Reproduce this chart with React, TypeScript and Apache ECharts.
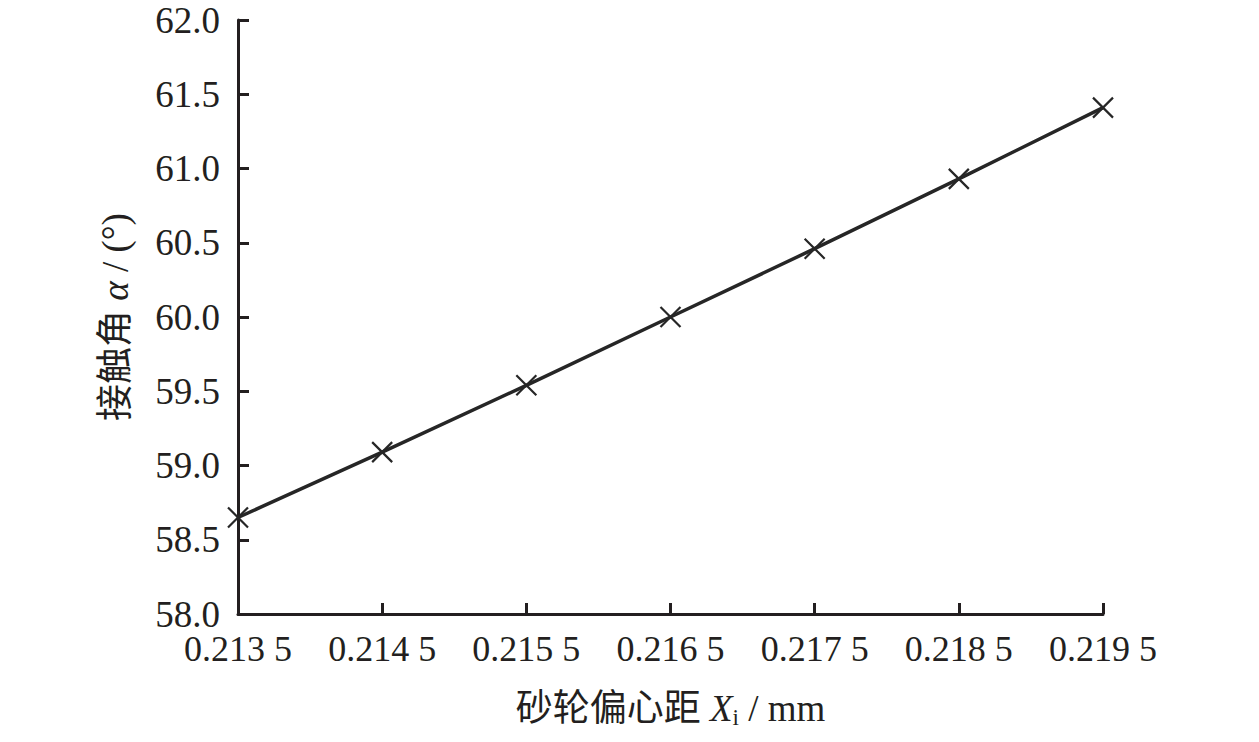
import React, { useEffect, useRef } from "react";
import * as echarts from "echarts";

const xValues = [0.2135, 0.2145, 0.2155, 0.2165, 0.2175, 0.2185, 0.2195];
const alphaValues = [58.65, 59.09, 59.54, 60.0, 60.46, 60.93, 61.41];
const xTickMin = 0.2135;
const xTickMax = 0.2195;
const yTickMin = 58.0;
const yTickMax = 62.0;

const FONT = "'Liberation Serif', 'Times New Roman', 'Noto Sans CJK SC', serif";
const INK = "#231f20";

export default function App() {
  const ref = useRef<HTMLDivElement>(null);
  useEffect(() => {
    if (!ref.current) return;
    const chart = echarts.init(ref.current, undefined, { renderer: "svg" });
    const data = xValues.map((x, i) => [x, alphaValues[i]]);
    chart.setOption({
      animation: false,
      backgroundColor: "#ffffff",
      grid: { left: 238, top: 20, right: 156, bottom: 128, containLabel: false },
      xAxis: {
        type: "value",
        min: xTickMin,
        max: xTickMax,
        interval: 0.001,
        name: "砂轮偏心距 {it|X}{sub|i} / mm",
        nameLocation: "middle",
        nameGap: 74,
        nameTextStyle: {
          fontFamily: FONT,
          fontSize: 37,
          color: INK,
          rich: {
            it: { fontFamily: FONT, fontSize: 37, fontStyle: "italic", color: INK },
            sub: { fontFamily: FONT, fontSize: 23, color: INK, verticalAlign: "bottom", padding: [18, 0, 0, 0] },
          },
        },
        axisLine: { show: true, lineStyle: { color: INK, width: 3 } },
        axisTick: { show: true, inside: true, length: 11, lineStyle: { color: INK, width: 3 } },
        axisLabel: {
          margin: 17,
          fontFamily: FONT,
          fontSize: 36,
          lineHeight: 36,
          color: INK,
          formatter: (v: number) => {
            const s = v.toFixed(4);
            return s.slice(0, 5) + " " + s.slice(5);
          },
        },
        splitLine: { show: false },
      },
      yAxis: {
        type: "value",
        min: yTickMin,
        max: yTickMax,
        interval: 0.5,
        name: "接触角 {it|α} / (°)",
        nameLocation: "middle",
        nameGap: 104,
        nameRotate: 90,
        nameTextStyle: {
          fontFamily: FONT,
          fontSize: 37,
          color: INK,
          rich: {
            it: { fontFamily: FONT, fontSize: 37, fontStyle: "italic", color: INK },
          },
        },
        axisLine: { show: true, lineStyle: { color: INK, width: 3 } },
        axisTick: { show: true, inside: true, length: 11, lineStyle: { color: INK, width: 3 } },
        axisLabel: {
          margin: 18,
          fontFamily: FONT,
          fontSize: 37,
          lineHeight: 32,
          color: INK,
          formatter: (v: number) => v.toFixed(1),
        },
        splitLine: { show: false },
      },
      series: [
        {
          type: "line",
          data,
          lineStyle: { color: "#262626", width: 3.5 },
          symbol: "path://M0,0L10,10M10,0L0,10",
          symbolSize: 20,
          showSymbol: true,
          itemStyle: { color: "none", borderColor: "#262626", borderWidth: 2.2 },
          z: 3,
        },
      ],
    });
    return () => chart.dispose();
  }, []);
  return (
    <div
      ref={ref}
      style={{ position: "fixed", left: 0, top: 0, width: 1259, height: 742, background: "#fff" }}
    />
  );
}
